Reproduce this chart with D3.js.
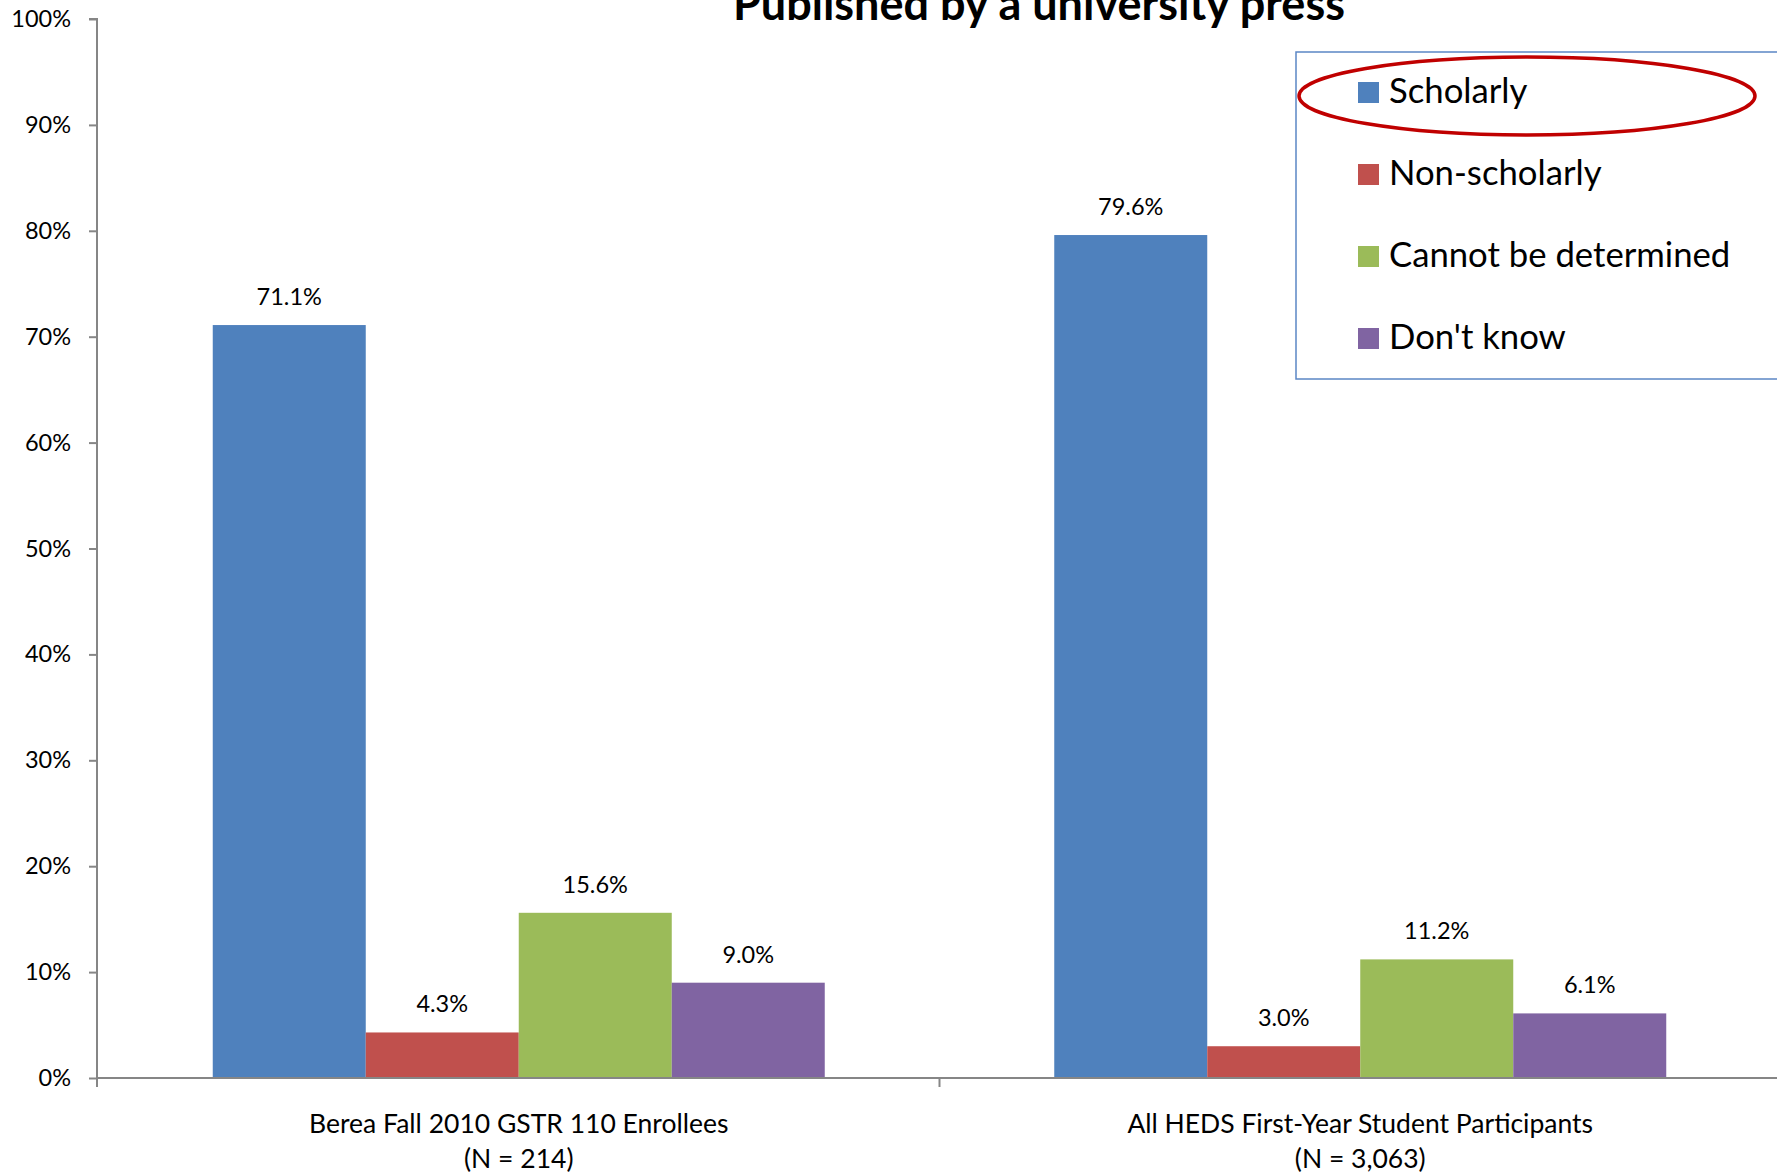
<!DOCTYPE html>
<html>
<head>
<meta charset="utf-8">
<script src="https://cdn.jsdelivr.net/npm/d3@7"></script>
<style>
  html, body { margin: 0; padding: 0; background: #fff; overflow: hidden; }
  svg { display: block; font-family: Lato, "Open Sans", sans-serif; }
</style>
</head>
<body>
<svg id="chart" width="1777" height="1176"></svg>
<script>
// ---- data ----
const title = "Published by a university press";
const categories = ["Berea Fall 2010 GSTR 110 Enrollees", "All HEDS First-Year Student Participants"];
const categorySubtitles = ["(N = 214)", "(N = 3,063)"];
const seriesNames = ["Scholarly", "Non-scholarly", "Cannot be determined", "Don't know"];
const seriesColors = ["#4F81BD", "#C0504D", "#9BBB59", "#8064A2"];
const scholarly = [71.1, 79.6];
const nonScholarly = [4.3, 3.0];
const cannotDetermine = [15.6, 11.2];
const dontKnow = [9.0, 6.1];
const yTicks = [0, 10, 20, 30, 40, 50, 60, 70, 80, 90, 100];

const seriesValues = [scholarly, nonScholarly, cannotDetermine, dontKnow];

// ---- layout ----
const svg = d3.select("#chart");
const plotLeft = 97, plotRight = 1781, plotTop = 19, plotBottom = 1078;
const axisColor = "#868686";

const x = d3.scaleBand().domain(categories).range([plotLeft + 1, plotRight]).padding(0);
const xs = d3.scaleBand().domain(seriesNames).range([0, x.bandwidth()])
  .paddingInner(0).paddingOuter(0.75);
const y = d3.scaleLinear().domain([0, 100]).range([plotBottom, plotTop]);

// bars
const groups = svg.append("g").selectAll("g")
  .data(categories).join("g")
  .attr("transform", c => `translate(${x(c)},0)`);

groups.each(function(c, ci) {
  const g = d3.select(this);
  const rows = seriesNames.map((s, si) => ({ s, si, v: seriesValues[si][ci] }));
  g.selectAll("rect").data(rows).join("rect")
    .attr("x", d => xs(d.s))
    .attr("width", xs.bandwidth())
    .attr("y", d => y(d.v))
    .attr("height", d => y(0) - y(d.v))
    .attr("fill", d => seriesColors[d.si]);
  g.selectAll("text.lbl").data(rows).join("text")
    .attr("class", "lbl")
    .attr("x", d => xs(d.s) + xs.bandwidth() / 2)
    .attr("y", d => y(d.v) - 20)
    .attr("text-anchor", "middle")
    .attr("font-size", 23.5)
    .attr("fill", "#000")
    .text(d => d.v.toFixed(1) + "%");
});

// y axis
const yAxis = svg.append("g")
  .attr("transform", `translate(${plotLeft},0)`)
  .call(d3.axisLeft(y).tickValues(yTicks).tickSize(8).tickPadding(18)
    .tickFormat(d => d + "%"));
yAxis.select(".domain").attr("stroke", axisColor).attr("stroke-width", 2)
  .attr("d", `M-8,${plotTop}H0V${plotBottom + 9}`);
yAxis.selectAll(".tick line").attr("stroke", axisColor).attr("stroke-width", 2);
yAxis.selectAll(".tick text").attr("font-size", 23.5).attr("fill", "#000")
  .attr("font-family", "Lato, sans-serif");

// x axis
const xAxis = svg.append("g")
  .attr("transform", `translate(0,${plotBottom})`)
  .call(d3.axisBottom(x).tickSize(0).tickFormat(""));
xAxis.select(".domain").attr("stroke", axisColor).attr("stroke-width", 2)
  .attr("d", `M${plotLeft},0H${plotRight}`);
xAxis.selectAll(".tick").remove();
const boundaries = categories.slice(1).map(c => x(c));
xAxis.selectAll("line.bnd").data(boundaries).join("line")
  .attr("class", "bnd")
  .attr("x1", d => d).attr("x2", d => d)
  .attr("y1", 0).attr("y2", 9)
  .attr("stroke", axisColor).attr("stroke-width", 2);

const catLabels = svg.append("g").selectAll("text")
  .data(categories).join("text")
  .attr("text-anchor", "middle")
  .attr("font-size", 26.5)
  .attr("fill", "#000");
catLabels.append("tspan")
  .attr("x", c => x(c) + x.bandwidth() / 2)
  .attr("y", 1133)
  .text(c => c);
catLabels.append("tspan")
  .attr("x", c => x(c) + x.bandwidth() / 2)
  .attr("y", 1168)
  .text((c, i) => categorySubtitles[i]);

// title (partially cut off at the top, as in the original)
svg.append("text")
  .attr("x", 1039)
  .attr("y", 20)
  .attr("text-anchor", "middle")
  .attr("font-size", 45)
  .attr("font-weight", "bold")
  .attr("fill", "#000")
  .text(title);

// legend
const legend = svg.append("g");
legend.append("rect")
  .attr("x", 1296).attr("y", 52)
  .attr("width", 520).attr("height", 327)
  .attr("fill", "#fff")
  .attr("stroke", "#5B86C5").attr("stroke-width", 1.5);
const items = legend.selectAll("g.item").data(seriesNames).join("g")
  .attr("class", "item")
  .attr("transform", (d, i) => `translate(1358,${82 + i * 82})`);
items.append("rect")
  .attr("width", 21).attr("height", 21)
  .attr("fill", (d, i) => seriesColors[i]);
items.append("text")
  .attr("x", 31).attr("y", 21)
  .attr("font-size", 34.7)
  .attr("fill", "#000")
  .text(d => d);

// highlight ellipse
svg.append("ellipse")
  .attr("cx", 1527).attr("cy", 96)
  .attr("rx", 228).attr("ry", 39)
  .attr("fill", "none")
  .attr("stroke", "#C00000")
  .attr("stroke-width", 3.5);
</script>
</body>
</html>
